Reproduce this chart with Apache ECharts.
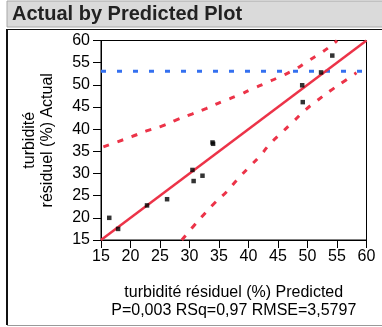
<!DOCTYPE html>
<html>
<head>
<meta charset="utf-8">
<script src="https://cdn.jsdelivr.net/npm/echarts@6/dist/echarts.min.js"></script>
<style>
  html, body { margin: 0; padding: 0; background: #fff; }
  #chart { width: 382px; height: 327px; }
</style>
</head>
<body>
<div id="chart"></div>
<script>
// Observations: predicted vs. actual residual turbidity (%)
const predicted = [16.4, 17.9, 22.8, 26.2, 30.5, 30.7, 32.2, 33.9, 34.0, 49.1, 49.2, 52.3, 54.2];
const actual    = [20.0, 17.5, 22.8, 24.2, 30.8, 28.3, 29.5, 37.0, 36.7, 49.9, 46.1, 52.8, 56.6];

// Fit line (actual = predicted)
const fitX = [15, 60];
const fitY = [15, 60];

// Mean of the response
const meanY = 53.05;
const meanX = [15, 59.4];

// Upper confidence curve
const upperX = [15.4, 17.9, 20.2, 22.7, 25.3, 27.8, 30.4, 32.9, 35.5, 38.0, 40.5, 43.1, 45.6, 47.9, 50.1, 52.4, 54.7, 55.0];
const upperY = [36.0, 37.2, 38.3, 39.6, 40.7, 42.1, 43.4, 44.7, 46.2, 47.5, 49.0, 50.5, 52.0, 53.5, 55.4, 57.3, 59.6, 60.0];

// Lower confidence curve
const lowerX = [28.7, 30.6, 32.6, 34.3, 36.3, 38.0, 40.0, 41.9, 43.6, 45.6, 47.6, 49.6, 51.6, 53.8, 56.1, 58.3];
const lowerY = [15.0, 18.0, 21.0, 23.4, 25.9, 28.5, 31.3, 33.9, 36.6, 39.2, 41.7, 44.3, 46.4, 48.6, 50.7, 52.7];

// Axis settings
const axisMin = 15, axisMax = 60, axisStep = 5;

const titleText = 'Actual by Predicted Plot';
const xName = 'turbidité résiduel (%) Predicted\nP=0,003 RSq=0,97 RMSE=3,5797';
const yName = 'turbidité\nrésiduel (%) Actual';

const FONT = '"Liberation Sans", Arial, sans-serif';
const RED = '#ec3348';
const BLUE = '#3470f0';

const zip = (xs, ys) => xs.map((x, i) => [x, ys[i]]);

const chart = echarts.init(document.getElementById('chart'), null, { renderer: 'canvas' });

const axisCommon = {
  type: 'value',
  min: axisMin,
  max: axisMax,
  interval: axisStep,
  nameLocation: 'middle',
  axisLine: { show: true, lineStyle: { color: '#000', width: 1 } },
  axisTick: { show: true, inside: false, length: 8, lineStyle: { color: '#000', width: 1 } },
  splitLine: { show: false },
  nameTextStyle: { color: '#000', fontSize: 16, fontFamily: FONT, lineHeight: 18 }
};

chart.setOption({
  animation: false,
  backgroundColor: '#fff',
  graphic: [
    // title bar
    { type: 'rect', shape: { x: 7, y: 1, width: 376, height: 26 },
      style: { fill: '#dadada', stroke: '#a8a8a8', lineWidth: 1 }, z: 0 },
    { type: 'text', x: 12, y: 4,
      style: { text: titleText, fill: '#222', font: 'bold 20px ' + FONT }, z: 1 },
    // outline frame
    { type: 'line', shape: { x1: 7, y1: 29, x2: 7, y2: 325 },
      style: { stroke: '#111', lineWidth: 2 }, z: 0 },
    { type: 'line', shape: { x1: 7, y1: 29.5, x2: 382, y2: 29.5 },
      style: { stroke: '#111', lineWidth: 1 }, z: 0 },
    { type: 'line', shape: { x1: 7, y1: 325.5, x2: 382, y2: 325.5 },
      style: { stroke: '#999', lineWidth: 1 }, z: 0 }
  ],
  grid: {
    left: 101, right: 15.5, top: 40.5, bottom: 87,
    show: true, borderColor: '#000', borderWidth: 1, backgroundColor: 'transparent'
  },
  xAxis: Object.assign({}, axisCommon, {
    name: xName,
    nameGap: 44,
    axisLabel: { color: '#000', fontSize: 16, fontFamily: FONT, margin: 9 }
  }),
  yAxis: Object.assign({}, axisCommon, {
    name: yName,
    nameGap: 44,
    axisLabel: { color: '#000', fontSize: 16, fontFamily: FONT, margin: 11 }
  }),
  series: [
    {
      type: 'line', name: 'mean', data: zip(meanX, [meanY, meanY]),
      symbol: 'none', clip: true,
      lineStyle: { color: BLUE, width: 3, type: [5, 11] }, z: 2
    },
    {
      type: 'line', name: 'upper', data: zip(upperX, upperY),
      symbol: 'none', smooth: true, clip: true,
      lineStyle: { color: RED, width: 3, type: [6, 9] }, z: 3
    },
    {
      type: 'line', name: 'lower', data: zip(lowerX, lowerY),
      symbol: 'none', smooth: true, clip: true,
      lineStyle: { color: RED, width: 3, type: [6, 9] }, z: 3
    },
    {
      type: 'line', name: 'fit', data: zip(fitX, fitY),
      symbol: 'none', clip: true,
      lineStyle: { color: RED, width: 2.5 }, z: 4
    },
    {
      type: 'scatter', name: 'obs', data: zip(predicted, actual),
      symbol: 'rect', symbolSize: 4.5,
      itemStyle: { color: '#000' }, z: 5
    }
  ]
});
</script>
</body>
</html>
